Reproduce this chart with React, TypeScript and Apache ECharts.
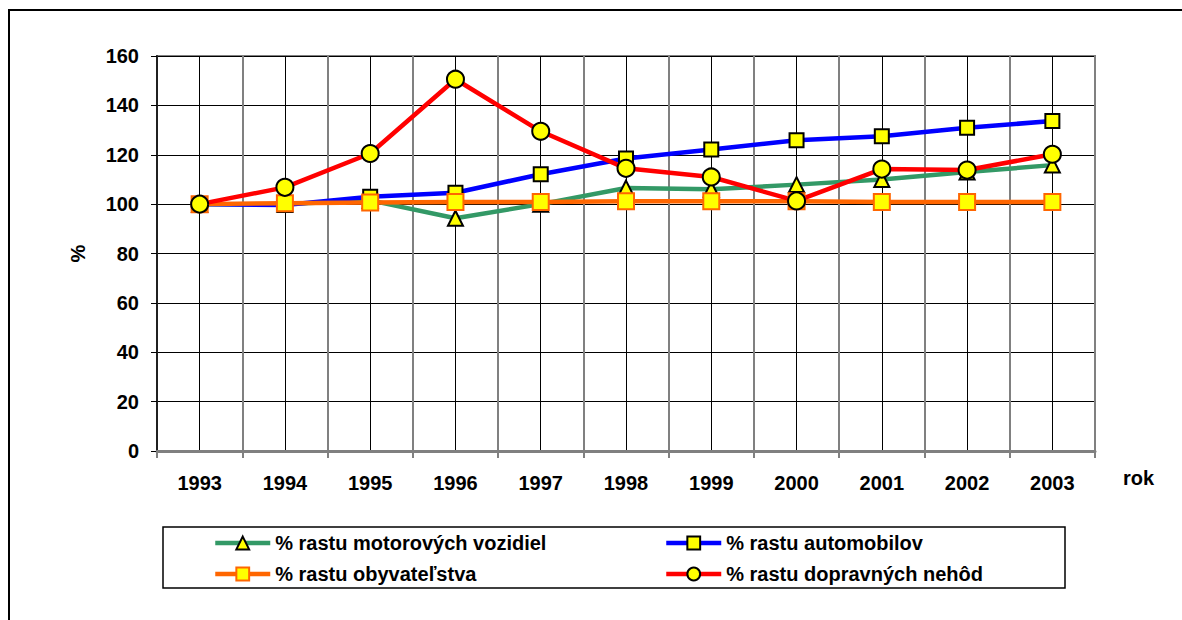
import React, { useEffect, useRef } from "react";
import * as echarts from "echarts";

const years = ["1993", "1994", "1995", "1996", "1997", "1998", "1999", "2000", "2001", "2002", "2003"];
const xAxisTitle = "rok";
const yAxisTitle = "%";

const motorNames = "% rastu motorových vozidiel";
const autoName = "% rastu automobilov";
const popName = "% rastu obyvateľstva";
const accName = "% rastu dopravných nehôd";

const motorVehicles = [100, 100, 101.5, 94.3, 100, 106.5, 106, 107.9, 110, 113, 115.8];
const cars = [100, 99.6, 103, 104.6, 112.1, 118.5, 122.1, 125.9, 127.5, 130.9, 133.7];
const population = [100, 100.4, 100.7, 100.9, 100.9, 101.2, 101.2, 101.2, 100.9, 100.9, 100.9];
const accidents = [100, 106.8, 120.5, 150.6, 129.5, 114.5, 111, 101.3, 114.2, 113.8, 120.2];

const FONT = "Liberation Sans, Arial, sans-serif";

export default function App() {
  const ref = useRef<HTMLDivElement>(null);
  useEffect(() => {
    if (!ref.current) return;
    const chart = echarts.init(ref.current, undefined, { renderer: "svg" });
    const mk = (name: string, data: number[], color: string, symbol: string, size: number, border: string) => ({
      name,
      type: "line",
      data,
      xAxisIndex: 1,
      yAxisIndex: 0,
      symbol,
      symbolSize: size,
      showAllSymbol: true,
      lineStyle: { color, width: 4.5 },
      itemStyle: { color: "#FFFF00", borderColor: border, borderWidth: 2 },
      color,
    });
    const legendText = { color: "#000", fontSize: 20, fontWeight: "bold", fontFamily: FONT, lineHeight: 22 };
    chart.setOption({
      animation: false,
      backgroundColor: "#ffffff",
      textStyle: { fontFamily: FONT },
      grid: {
        left: 157,
        top: 56,
        right: 87,
        bottom: 169,
        show: true,
        borderColor: "#808080",
        borderWidth: 2,
        backgroundColor: "transparent",
      },
      xAxis: [
        {
          type: "value",
          min: 0,
          max: 22,
          interval: 1,
          position: "bottom",
          axisLine: { show: false },
          axisTick: { show: false },
          axisLabel: { show: false },
          splitLine: { show: true, lineStyle: { color: "#000000", width: 1 } },
        },
        {
          type: "category",
          data: years,
          position: "bottom",
          boundaryGap: true,
          axisLine: { show: true, lineStyle: { color: "#808080", width: 3 } },
          axisTick: { show: true, length: 7, inside: false, lineStyle: { color: "#808080", width: 2 } },
          axisLabel: { color: "#000", fontSize: 20, fontWeight: "bold", fontFamily: FONT, margin: 22 },
          splitLine: { show: true, lineStyle: { color: "#808080", width: 2 } },
        },
      ],
      yAxis: [
        {
          type: "value",
          min: 0,
          max: 160,
          interval: 20,
          axisLine: { show: true, lineStyle: { color: "#202020", width: 2 } },
          axisTick: { show: true, length: 6, lineStyle: { color: "#000", width: 1 } },
          axisLabel: { color: "#000", fontSize: 20, fontWeight: "bold", fontFamily: FONT, margin: 18 },
          splitLine: { show: true, lineStyle: { color: "#000000", width: 1 } },
          name: yAxisTitle,
          nameLocation: "middle",
          nameGap: 69,
          nameRotate: 90,
          nameTextStyle: { color: "#000", fontSize: 20, fontWeight: "bold", fontFamily: FONT },
        },
      ],
      legend: [
        {
          data: [motorNames, popName],
          orient: "vertical",
          left: 208,
          top: 527,
          itemWidth: 55,
          itemHeight: 16,
          itemGap: 9,
          lineStyle: { width: 4.5 },
          textStyle: legendText,
        },
        {
          data: [autoName, accName],
          orient: "vertical",
          left: 659,
          top: 527,
          itemWidth: 55,
          itemHeight: 16,
          itemGap: 9,
          lineStyle: { width: 4.5 },
          textStyle: legendText,
        },
      ],
      graphic: [
        {
          type: "rect",
          shape: { x: 9, y: 10, width: 1200, height: 700 },
          style: { fill: "none", stroke: "#000", lineWidth: 2 },
          silent: true,
          z: -10,
        },
        {
          type: "rect",
          shape: { x: 163, y: 527, width: 902, height: 61 },
          style: { fill: "none", stroke: "#000", lineWidth: 1.5 },
          silent: true,
        },
        {
          type: "text",
          x: 1123,
          y: 478,
          style: {
            text: xAxisTitle,
            fill: "#000",
            font: "bold 20px " + FONT,
            textVerticalAlign: "middle",
            verticalAlign: "middle",
          },
          silent: true,
        },
      ],
      series: [
        mk(motorNames, motorVehicles, "#339966", "triangle", 15, "#000"),
        mk(autoName, cars, "#0000FF", "rect", 14, "#000"),
        mk(popName, population, "#FF6600", "rect", 16, "#FF6600"),
        mk(accName, accidents, "#FF0000", "circle", 17, "#000"),
      ],
    });
    return () => chart.dispose();
  }, []);
  return <div ref={ref} style={{ position: "fixed", left: 0, top: 0, width: 1182, height: 620 }} />;
}
